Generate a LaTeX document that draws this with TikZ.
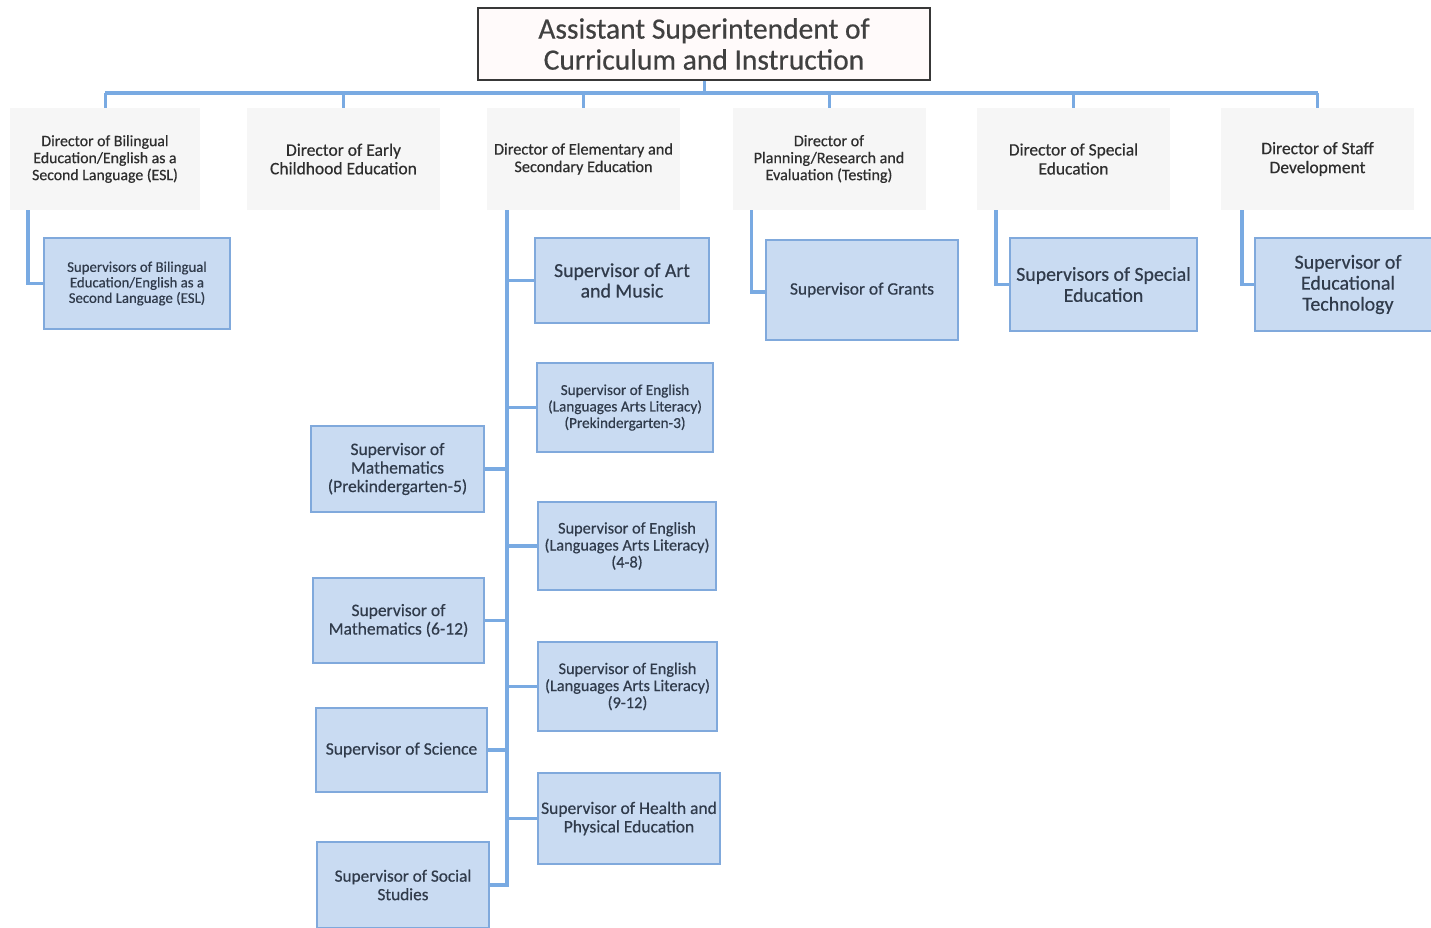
\documentclass[tikz,border=0pt]{standalone}
\usepackage{fontspec}
\setmainfont{Carlito}[FakeBold=0.5]
\begin{document}
\begin{tikzpicture}[x=1pt,y=-1pt,
  fs/.style n args={2}{font=\fontsize{#1}{#2}\selectfont},
  topbox/.style={draw=black!78, line width=1.2pt, fill=red!2!white, text=black!75,
    align=center, inner sep=0pt},
  dirbox/.style={fill=black!3.5, text=black!82, align=center, inner sep=0pt,
    minimum width=193pt, minimum height=102pt},
  supbox/.style={draw=supline, line width=1.6pt, fill=supfill, text=suptext,
    align=center, inner sep=0pt},
  conn/.style={draw=connblue, line width=3.6pt},
  connthin/.style={draw=connblue, line width=3pt},
]
\definecolor{supfill}{HTML}{C9DBF2}
\definecolor{supline}{HTML}{80A9DC}
\definecolor{suptext}{HTML}{303B4B}
\definecolor{connblue}{HTML}{79AAE2}
\useasboundingbox (0,0) rectangle (1431,928);

% head of the department
\node[topbox, minimum width=452pt, minimum height=72pt, fs={29.5}{31}] (top) at (704,44)
  {Assistant Superintendent of\\Curriculum and Instruction};

% directors
\node[dirbox, minimum width=190pt, fs={15.8}{17}] (d1) at (105,159)
  {Director of Bilingual\\Education/English as a\\Second Language (ESL)};
\node[dirbox, fs={17.5}{18.5}] (d2) at (343.5,159) {Director of Early\\Childhood Education};
\node[dirbox, fs={16.3}{17.5}] (d3) at (583.5,159) {Director of Elementary and\\Secondary Education};
\node[dirbox, fs={16.1}{17}] (d4) at (829,159) {Director of\\Planning/Research and\\Evaluation (Testing)};
\node[dirbox, fs={17.4}{19}] (d5) at (1073.5,159) {Director of Special\\Education};
\node[dirbox, fs={17.5}{19}] (d6) at (1317.5,159) {Director of Staff\\Development};

% bus from the head to every director
\coordinate (bus) at (704,93);
\draw[connthin] (top.south) -- (top.south |- bus);
\draw[conn] (d1.north |- bus) -- (d6.north |- bus);
\foreach \d in {d1,d2,d3,d4,d5,d6}
  \draw[connthin] (\d.north |- bus) -- (\d.north);

% supervisors under single directors
\node[supbox, minimum width=186pt, minimum height=91pt, fs={14.8}{15.5}] (sbil) at (137,283.5)
  {Supervisors of Bilingual\\Education/English as a\\Second Language (ESL)};
\node[supbox, minimum width=192pt, minimum height=100pt, fs={17.4}{18}] (grants) at (862,290)
  {Supervisor of Grants};
\node[supbox, minimum width=187pt, minimum height=93pt, fs={19.8}{21}] (sped) at (1103.5,284.5)
  {Supervisors of Special\\Education};
\node[supbox, minimum width=186pt, minimum height=93pt, fs={19.9}{21}] (edtech) at (1348,284.5)
  {Supervisor of\\Educational\\Technology};

\draw[conn] ([xshift=18pt]d1.south west) |- (sbil.west);
\draw[conn] ([xshift=19pt]d4.south west) |- ([yshift=-2pt]grants.west);
\draw[conn] ([xshift=19pt]d5.south west) |- (sped.west);
\draw[conn] ([xshift=21pt]d6.south west) |- (edtech.west);

% supervisors under elementary and secondary education
\node[supbox, minimum width=174pt, minimum height=85pt, fs={19.8}{20.5}] (art) at (622,280.5)
  {Supervisor of Art\\and Music};
\node[supbox, minimum width=176pt, minimum height=89pt, fs={15.2}{16.5}] (engA) at (625,407.5)
  {Supervisor of English\\(Languages Arts Literacy)\\(Prekindergarten-3)};
\node[supbox, minimum width=178pt, minimum height=88pt, fs={16.3}{17}] (engB) at (627,546)
  {Supervisor of English\\(Languages Arts Literacy)\\(4-8)};
\node[supbox, minimum width=179pt, minimum height=89pt, fs={16.3}{17}] (engC) at (627.5,686.5)
  {Supervisor of English\\(Languages Arts Literacy)\\(9-12)};
\node[supbox, minimum width=182pt, minimum height=91pt, fs={17.5}{18.5}] (health) at (629,818.5)
  {Supervisor of Health and\\Physical Education};
\node[supbox, minimum width=173pt, minimum height=86pt, fs={17.5}{18.5}] (mathA) at (397.5,469)
  {Supervisor of\\Mathematics\\(Prekindergarten-5)};
\node[supbox, minimum width=171pt, minimum height=85pt, fs={17.5}{18.5}] (mathB) at (398.5,620.5)
  {Supervisor of\\Mathematics (6-12)};
\node[supbox, minimum width=171pt, minimum height=84pt, fs={17.5}{18.5}] (sci) at (401.5,750)
  {Supervisor of Science};
\node[supbox, minimum width=172pt, minimum height=86pt, fs={17.2}{18.5}] (socs) at (403,885)
  {Supervisor of Social\\Studies};

\coordinate (spine) at ([xshift=20pt]d3.south west);
\draw[conn] (spine) |- (socs.east);
\foreach \s in {art,engA,engB,engC,health}
  \draw[conn] (spine |- \s.west) -- (\s.west);
\foreach \s in {mathA,mathB,sci}
  \draw[conn] (spine |- \s.east) -- (\s.east);
\end{tikzpicture}
\end{document}
